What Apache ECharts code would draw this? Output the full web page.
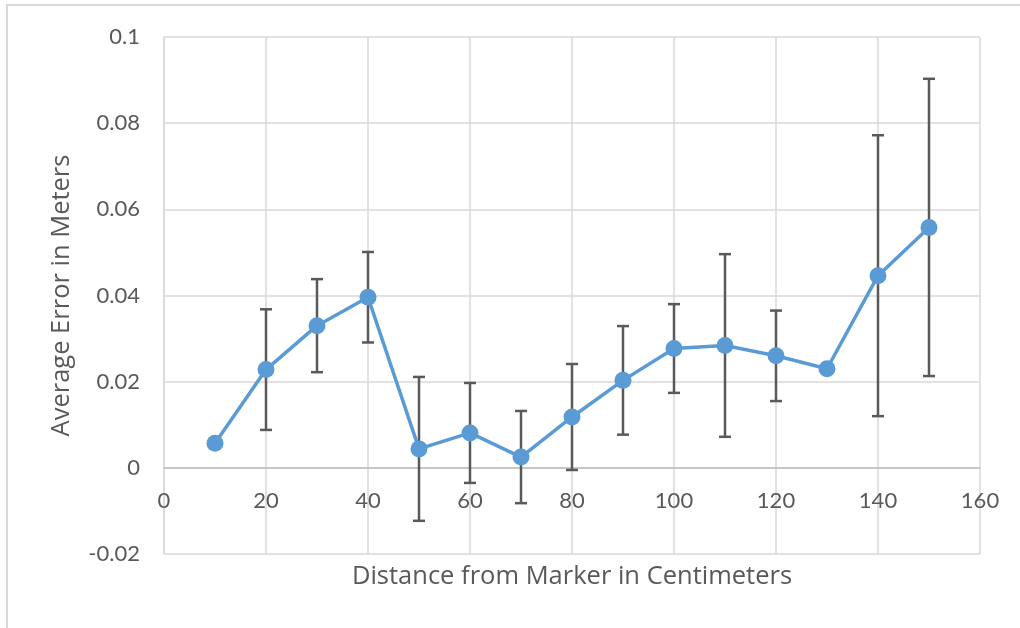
<!DOCTYPE html>
<html>
<head>
<meta charset="utf-8">
<script src="https://cdn.jsdelivr.net/npm/echarts@6/dist/echarts.min.js"></script>
<style>
  html, body { margin: 0; padding: 0; background: #fff; }
  #frame { position: absolute; left: 6px; top: 4px; width: 1030px; height: 640px;
           border-left: 2px solid #d9d9d9; border-top: 2px solid #d9d9d9; }
  #chart { position: absolute; left: 0; top: 0; width: 1020px; height: 628px; }
</style>
</head>
<body>
<div id="frame"></div>
<div id="chart"></div>
<script>
// Distance from marker (cm)
const distances = [10, 20, 30, 40, 50, 60, 70, 80, 90, 100, 110, 120, 130, 140, 150];
// Average error (m)
const avgError = [0.0057, 0.0228, 0.0330, 0.0396, 0.0044, 0.0081, 0.0025, 0.0118, 0.0203, 0.0277, 0.0284, 0.0260, 0.0230, 0.0446, 0.0558];
// Error bar half-width (m)
const errSize = [0.0008, 0.0140, 0.0108, 0.0105, 0.0167, 0.0116, 0.0107, 0.0123, 0.0126, 0.0103, 0.0212, 0.0105, 0.0000, 0.0326, 0.0345];

const xTicks = { min: 0, max: 160, interval: 20 };
const yTicks = { min: -0.02, max: 0.1, interval: 0.02 };

const points = distances.map((d, i) => [d, avgError[i]]);
const bars = distances.map((d, i) => [d, avgError[i] - errSize[i], avgError[i] + errSize[i]]);

const tickFont = 'Lato, "Open Sans", sans-serif';
const titleFont = '"Open Sans", Lato, sans-serif';
const chart = echarts.init(document.getElementById('chart'), null, { renderer: 'canvas' });

chart.setOption({
  animation: false,
  backgroundColor: 'transparent',
  grid: { left: 164, right: 40, top: 37, bottom: 74, outerBoundsMode: 'none', containLabel: false },
  xAxis: {
    type: 'value',
    min: xTicks.min, max: xTicks.max, interval: xTicks.interval,
    name: 'Distance from Marker in Centimeters',
    nameLocation: 'middle',
    nameGap: 10,
    nameMoveOverlap: false,
    nameTextStyle: { fontFamily: titleFont, fontSize: 25.5, color: '#595959' },
    axisLine: { onZero: true, lineStyle: { color: '#bfbfbf', width: 1.5 } },
    axisTick: { show: false },
    // labels sit just under the zero line, inside the plot
    axisLabel: { fontFamily: tickFont, fontSize: 22, color: '#595959', margin: -64 },
    splitLine: { show: true, lineStyle: { color: '#d9d9d9', width: 1.5 } }
  },
  yAxis: {
    type: 'value',
    min: yTicks.min, max: yTicks.max, interval: yTicks.interval,
    name: 'Average Error in Meters',
    nameLocation: 'middle',
    nameGap: 89,
    nameRotate: 90,
    nameMoveOverlap: false,
    nameTextStyle: { fontFamily: titleFont, fontSize: 25.5, color: '#595959' },
    axisLine: { show: true, onZero: false, lineStyle: { color: '#d9d9d9', width: 1.5 } },
    axisTick: { show: false },
    axisLabel: {
      fontFamily: tickFont, fontSize: 22, color: '#595959', margin: 24,
      formatter: v => String(+v.toFixed(2))
    },
    splitLine: { show: true, lineStyle: { color: '#d9d9d9', width: 1.5 } }
  },
  series: [
    {
      type: 'custom',
      z: 3,
      data: bars,
      renderItem: (params, api) => {
        const x = api.value(0);
        const lo = api.coord([x, api.value(1)]);
        const hi = api.coord([x, api.value(2)]);
        const cap = 6;
        const style = { stroke: '#595959', lineWidth: 2.5 };
        return {
          type: 'group',
          children: [
            { type: 'line', shape: { x1: hi[0], y1: hi[1], x2: lo[0], y2: lo[1] }, style },
            { type: 'line', shape: { x1: hi[0] - cap, y1: hi[1], x2: hi[0] + cap, y2: hi[1] }, style },
            { type: 'line', shape: { x1: lo[0] - cap, y1: lo[1], x2: lo[0] + cap, y2: lo[1] }, style }
          ]
        };
      }
    },
    {
      type: 'line',
      z: 4,
      data: points,
      symbol: 'circle',
      symbolSize: 17,
      lineStyle: { color: '#5b9bd5', width: 3.5 },
      itemStyle: { color: '#5b9bd5' }
    }
  ]
});
</script>
</body>
</html>
